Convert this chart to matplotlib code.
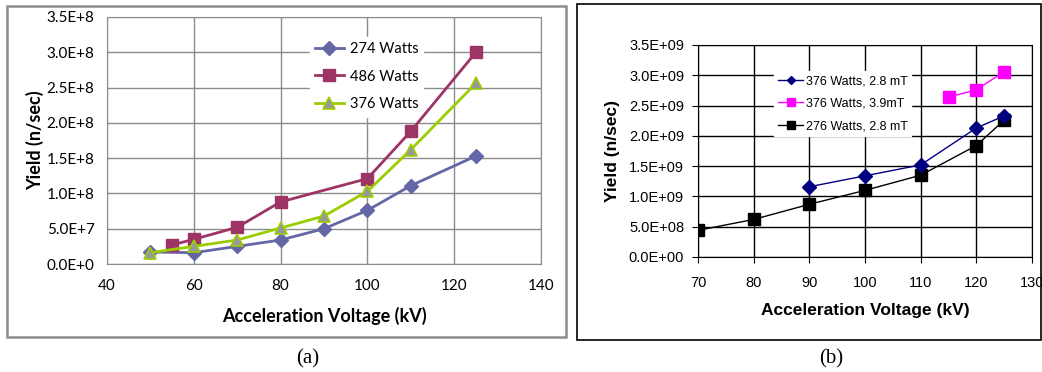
import matplotlib.pyplot as plt
from matplotlib.patches import Rectangle

# panel (a) data
kv_274 = [50, 60, 70, 80, 90, 100, 110, 125]
y_274 = [1.7e7, 1.6e7, 2.5e7, 3.4e7, 5.0e7, 7.6e7, 1.11e8, 1.53e8]
kv_486 = [55, 60, 70, 80, 100, 110, 125]
y_486 = [2.7e7, 3.5e7, 5.2e7, 8.8e7, 1.21e8, 1.88e8, 3.0e8]
kv_376 = [50, 60, 70, 80, 90, 100, 110, 125]
y_376 = [1.6e7, 2.5e7, 3.4e7, 5.1e7, 6.8e7, 1.03e8, 1.62e8, 2.56e8]

# panel (b) data
kv_b1 = [90, 100, 110, 120, 125]
y_b1 = [1.16e9, 1.34e9, 1.52e9, 2.13e9, 2.33e9]
kv_b2 = [115, 120, 125]
y_b2 = [2.64e9, 2.76e9, 3.06e9]
kv_b3 = [70, 80, 90, 100, 110, 120, 125]
y_b3 = [4.4e8, 6.2e8, 8.7e8, 1.10e9, 1.35e9, 1.84e9, 2.26e9]

yt_a = [0, 5e7, 1e8, 1.5e8, 2e8, 2.5e8, 3e8, 3.5e8]
yt_a_lab = ['0.0E+0', '5.0E+7', '1.0E+8', '1.5E+8', '2.0E+8', '2.5E+8', '3.0E+8', '3.5E+8']
yt_b = [0, 5e8, 1e9, 1.5e9, 2e9, 2.5e9, 3e9, 3.5e9]
yt_b_lab = ['0.0E+00', '5.0E+08', '1.0E+09', '1.5E+09', '2.0E+09', '2.5E+09', '3.0E+09', '3.5E+09']

W, H = 1042, 372
fig = plt.figure(figsize=(W / 100, H / 100), dpi=100)

def rect(l, t, r, b):
    return [l / W, 1 - b / H, (r - l) / W, (b - t) / H]

# frames around the two charts
fig.patches.append(Rectangle((7 / W, 1 - 337 / H), 559 / W, 331 / H, transform=fig.transFigure,
                             fill=False, ec='#8c8c8c', lw=1.8))
fig.patches.append(Rectangle((577 / W, 1 - 340 / H), 464 / W, 336 / H, transform=fig.transFigure,
                             fill=False, ec='black', lw=1.2))

# ---- (a)
axa = fig.add_axes(rect(107, 17, 541, 264))
axa.plot(kv_274, y_274, color='#6466a6', lw=2, marker='D', ms=7, label='274 Watts', zorder=3)
axa.plot(kv_486, y_486, color='#9e3365', lw=2, marker='s', ms=9, label='486 Watts', zorder=3)
axa.plot(kv_376, y_376, color='#9acd00', lw=2, marker='^', ms=9, mfc='#989898', mec='#9acd00',
         mew=1.2, label='376 Watts', zorder=4)
axa.set_xlim(40, 140)
axa.set_ylim(0, 3.5e8)
axa.set_xticks([40, 60, 80, 100, 120, 140])
axa.set_yticks(yt_a)
axa.set_yticklabels(yt_a_lab)
axa.grid(True, color='#8c8c8c', lw=1)
axa.set_axisbelow(True)
for s in axa.spines.values():
    s.set_color('#8c8c8c')
axa.tick_params(length=0, labelsize=11)
axa.tick_params(axis='x', pad=11)
axa.tick_params(axis='y', pad=9)
for t in axa.get_xticklabels() + axa.get_yticklabels():
    t.set_family('Lato')
axa.set_xlabel('Acceleration Voltage (kV)', family='Lato', fontsize=13, fontweight='bold', labelpad=10)
axa.set_ylabel('Yield (n/sec)', family='Lato', fontsize=13, fontweight='bold', labelpad=2)
lga = axa.legend(loc='upper left', bbox_to_anchor=(0.45, 0.95), frameon=True, fancybox=False,
                 edgecolor='white', framealpha=1, prop={'family': 'Lato', 'size': 10.5},
                 handlelength=2.0, handletextpad=0.4, labelspacing=0.95, borderpad=0.35)
lga.set_zorder(2.5)  # legend hides the grid but not the curves

# ---- (b)
axb = fig.add_axes(rect(698, 45, 1032, 257))
axb.plot(kv_b1, y_b1, color='#000080', lw=1, marker='D', ms=7, label='376 Watts, 2.8 mT', zorder=4)
axb.plot(kv_b2, y_b2, color='#ff00ff', lw=1, marker='s', ms=9, label='376 Watts, 3.9mT', zorder=3)
axb.plot(kv_b3, y_b3, color='black', lw=1, marker='s', ms=9, label='276 Watts, 2.8 mT', zorder=3)
axb.set_xlim(70, 130)
axb.set_ylim(0, 3.5e9)
axb.set_xticks([70, 80, 90, 100, 110, 120, 130])
axb.set_yticks(yt_b)
axb.set_yticklabels(yt_b_lab)
axb.grid(True, color='black', lw=1)
axb.set_axisbelow(True)
for s in axb.spines.values():
    s.set_color('black')
axb.tick_params(length=4, labelsize=10.5, direction='out')
axb.tick_params(axis='x', pad=10)
axb.tick_params(axis='y', pad=6)
for t in axb.get_xticklabels() + axb.get_yticklabels():
    t.set_family('Liberation Sans')
axb.set_xlabel('Acceleration Voltage (kV)', family='Liberation Sans', fontsize=12.5, fontweight='bold', labelpad=9)
axb.set_ylabel('Yield (n/sec)', family='Liberation Sans', fontsize=12.5, fontweight='bold', labelpad=6)
lgb = axb.legend(loc='upper left', bbox_to_anchor=(0.21, 0.905), frameon=True, fancybox=False,
                 edgecolor='white', framealpha=1, prop={'family': 'Liberation Sans', 'size': 9},
                 handlelength=2.0, handletextpad=0.2, labelspacing=0.85, borderpad=0.3, markerscale=0.6)

# captions
fig.text(308 / W, 1 - 359 / H, '(a)', family='Liberation Serif', fontsize=15, ha='center', va='center')
fig.text(831 / W, 1 - 359 / H, '(b)', family='Liberation Serif', fontsize=15, ha='center', va='center')

fig.savefig('out.png', dpi=100)
